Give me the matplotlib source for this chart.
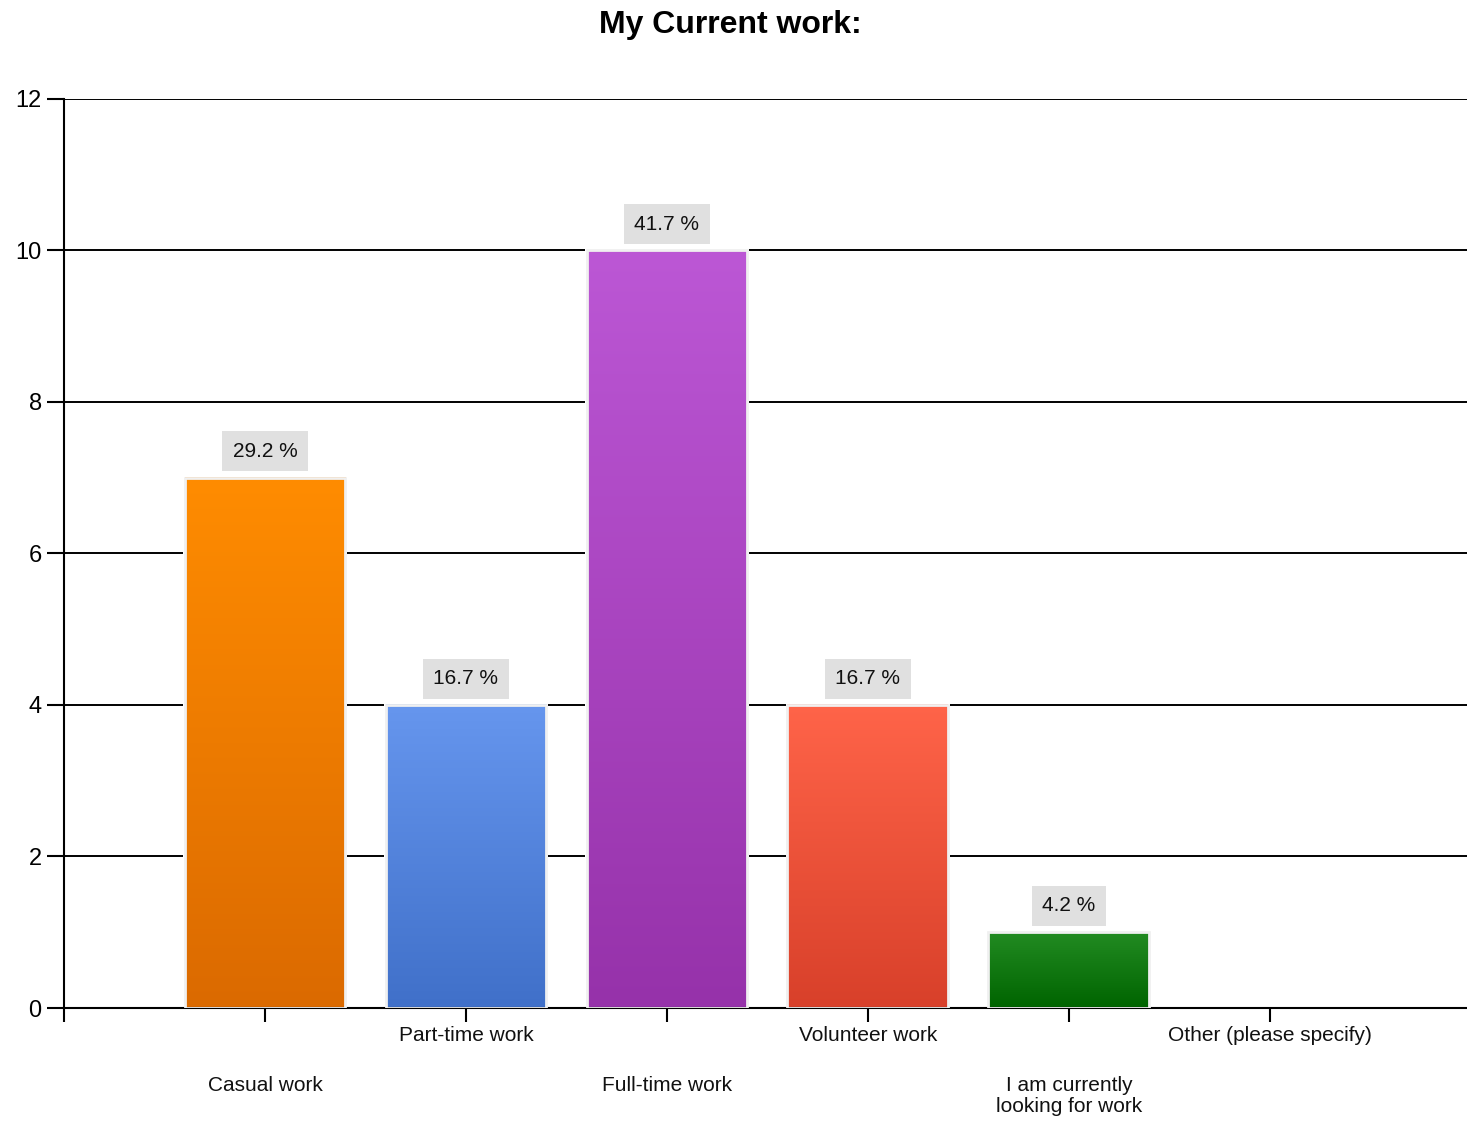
import matplotlib.pyplot as plt
import matplotlib.transforms as mtransforms
import numpy as np
from matplotlib.colors import LinearSegmentedColormap
from matplotlib.patches import Rectangle

plt.rcParams["font.family"] = ["Liberation Sans", "DejaVu Sans"]

categories = ["Casual work", "Part-time work", "Full-time work", "Volunteer work",
              "I am currently\nlooking for work", "Other (please specify)"]
counts = [7, 4, 10, 4, 1, 0]
percents = ["29.2 %", "16.7 %", "41.7 %", "16.7 %", "4.2 %", ""]
# (top colour, bottom colour) of each bar's vertical gradient
colors = [("#FF8C00", "#DB6A00"), ("#6696EE", "#4070C9"), ("#BC57D5", "#9632AA"),
          ("#FF6449", "#D8402A"), ("#228B22", "#006400"), ("#888888", "#888888")]
y_ticks = [0, 2, 4, 6, 8, 10, 12]

BAR_W = 0.8

fig = plt.figure(figsize=(14.67, 11.22), dpi=100)
ax = fig.add_axes([0.0436, 0.1016, 0.959, 0.8102])

positions = np.arange(1, len(categories) + 1)
grad = np.linspace(0, 1, 256).reshape(-1, 1)

for x, h, (top, bottom), pct in zip(positions, counts, colors, percents):
    if h <= 0:
        continue
    cmap = LinearSegmentedColormap.from_list("g", [bottom, top])
    ax.imshow(grad, cmap=cmap, origin="lower", aspect="auto",
              extent=[x - BAR_W / 2, x + BAR_W / 2, 0, h], zorder=2,
              interpolation="bicubic")
    ax.add_patch(Rectangle((x - BAR_W / 2, 0), BAR_W, h, fill=False,
                           edgecolor="#f0f0f0", linewidth=2.0, zorder=3))
    # white halo so grid lines stop short of the bar
    ax.add_patch(Rectangle((x - BAR_W / 2 - 0.008, 0), BAR_W + 0.016, h + 0.02,
                           facecolor="white", edgecolor="none", zorder=1.5))
    ax.annotate(pct, (x, h), xytext=(0, 19), textcoords="offset points",
                ha="center", va="center", fontsize=15, color="#111111", zorder=4,
                bbox=dict(boxstyle="square,pad=0.5", facecolor="#E0E0E0",
                          edgecolor="none"))

ax.set_xlim(0, 7)
ax.set_ylim(0, 12)
ax.set_yticks(y_ticks)
ax.set_yticklabels([str(t) for t in y_ticks], fontsize=17)
ax.yaxis.grid(True, color="black", linewidth=1.4, zorder=1)
ax.set_axisbelow(True)

ax.set_xticks(np.arange(0, 7))
ax.set_xticklabels([])
ax.tick_params(axis="x", length=10, width=1.5, direction="out")
ax.tick_params(axis="y", length=12, width=1.5, direction="out", pad=4)

trans = mtransforms.blended_transform_factory(ax.transData, ax.transAxes)
for i, (x, name) in enumerate(zip(positions, categories)):
    dy = -0.020 if i % 2 == 1 else -0.075
    ax.text(x, dy, name, transform=trans, ha="center", va="top",
            fontsize=15, color="#111111", linespacing=1.1)

for side in ["top", "right"]:
    ax.spines[side].set_visible(False)
ax.spines["left"].set_linewidth(1.5)
ax.spines["bottom"].set_linewidth(1.5)

fig.text(0.498, 0.978, "My Current work:", ha="center", va="center",
         fontsize=23, fontweight="bold")

plt.savefig("out.png", dpi=100)
